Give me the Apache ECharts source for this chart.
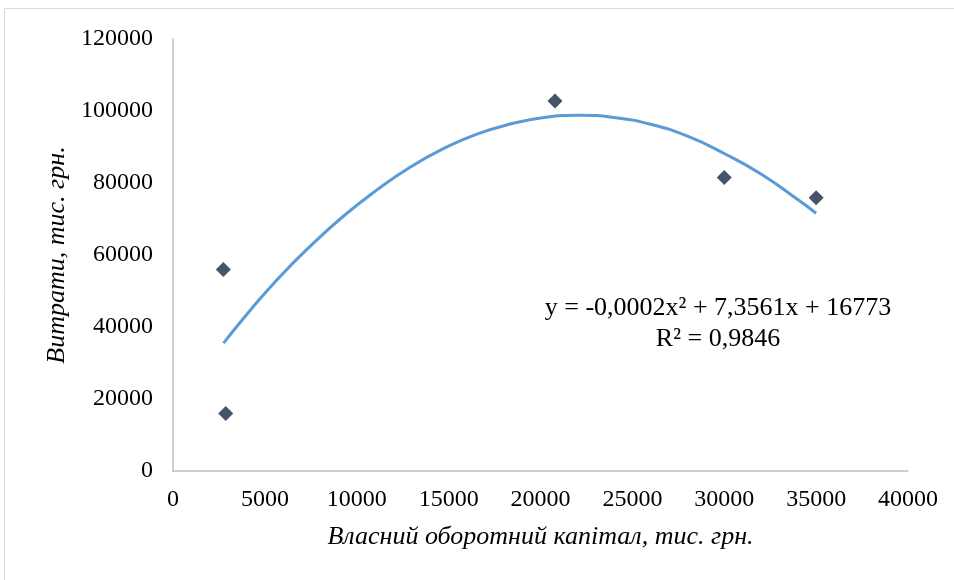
<!DOCTYPE html>
<html>
<head>
<meta charset="utf-8">
<script src="https://cdn.jsdelivr.net/npm/echarts@6/dist/echarts.min.js"></script>
<style>
html, body { margin: 0; padding: 0; background: #fff; }
#main { width: 954px; height: 580px; }
</style>
</head>
<body>
<div id="main"></div>
<script>
// observed points
var capital = [2740, 2870, 20790, 30000, 35000];
var costs = [56000, 16000, 102800, 81500, 75900];

// polynomial trendline
var trendX = [2750, 4000, 5600, 7500, 9300, 11100, 12900, 14700, 16500, 18300, 20200, 22100, 24000, 26000, 28000, 30000, 32000, 34000, 35000];
var trendY = [35500, 43400, 52800, 62600, 70900, 78100, 84400, 89500, 93500, 96300, 98200, 98800, 98200, 96300, 93000, 88200, 82500, 75400, 71600];

var xTicks = [0, 5000, 10000, 15000, 20000, 25000, 30000, 35000, 40000];
var yTicks = [0, 20000, 40000, 60000, 80000, 100000, 120000];

var equation = 'y = -0,0002x² + 7,3561x + 16773';
var rSquared = 'R² = 0,9846';

var serif = '"Liberation Serif", "Times New Roman", serif';

var chartDom = document.getElementById('main');
var myChart = echarts.init(chartDom, null, {
    renderer: 'canvas'
});

var points = capital.map(function (x, i) { return [x, costs[i]]; });
var trend = trendX.map(function (x, i) { return [x, trendY[i]]; });

var option = {
    animation: false,
    backgroundColor: '#fff',
    grid: { left: 173, right: 46, top: 39, bottom: 109 },
    graphic: [
        {
            type: 'rect',
            shape: { x: 4.5, y: 8.5, width: 980, height: 600 },
            style: { fill: 'none', stroke: '#d9d9d9', lineWidth: 1 },
            silent: true
        },
        {
            type: 'text',
            x: 718,
            y: 295,
            style: {
                text: equation,
                align: 'center',
                verticalAlign: 'top',
                font: '26px ' + serif,
                fill: '#000'
            }
        },
        {
            type: 'text',
            x: 718,
            y: 326,
            style: {
                text: rSquared,
                align: 'center',
                verticalAlign: 'top',
                font: '26px ' + serif,
                fill: '#000'
            }
        }
    ],
    xAxis: {
        type: 'value',
        min: xTicks[0],
        max: xTicks[xTicks.length - 1],
        interval: 5000,
        name: 'Власний оборотний капітал, тис. грн.',
        nameLocation: 'middle',
        nameGap: 53,
        nameTextStyle: { fontFamily: serif, fontStyle: 'italic', fontSize: 26, color: '#000' },
        axisLine: { show: true, lineStyle: { color: '#bfbfbf', width: 1.5 } },
        axisTick: { show: false },
        splitLine: { show: false },
        axisLabel: {
            fontFamily: serif, fontSize: 24, color: '#000', margin: 17,
            formatter: function (v) { return String(v); }
        }
    },
    yAxis: {
        type: 'value',
        min: yTicks[0],
        max: yTicks[yTicks.length - 1],
        interval: 20000,
        name: 'Витрати, тис. грн.',
        nameLocation: 'middle',
        nameGap: 94,
        nameTextStyle: { fontFamily: serif, fontStyle: 'italic', fontSize: 26, color: '#000' },
        axisLine: { show: true, lineStyle: { color: '#bfbfbf', width: 1.5 } },
        axisTick: { show: false },
        splitLine: { show: false },
        axisLabel: {
            fontFamily: serif, fontSize: 24, color: '#000', margin: 20,
            formatter: function (v) { return String(v); }
        }
    },
    series: [
        {
            type: 'line',
            data: trend,
            smooth: true,
            showSymbol: false,
            lineStyle: { color: '#5b9bd5', width: 3 },
            z: 2
        },
        {
            type: 'scatter',
            data: points,
            symbol: 'diamond',
            symbolSize: 15,
            itemStyle: { color: '#44546a', opacity: 1 },
            z: 3
        }
    ]
};

option && myChart.setOption(option);
</script>
</body>
</html>
